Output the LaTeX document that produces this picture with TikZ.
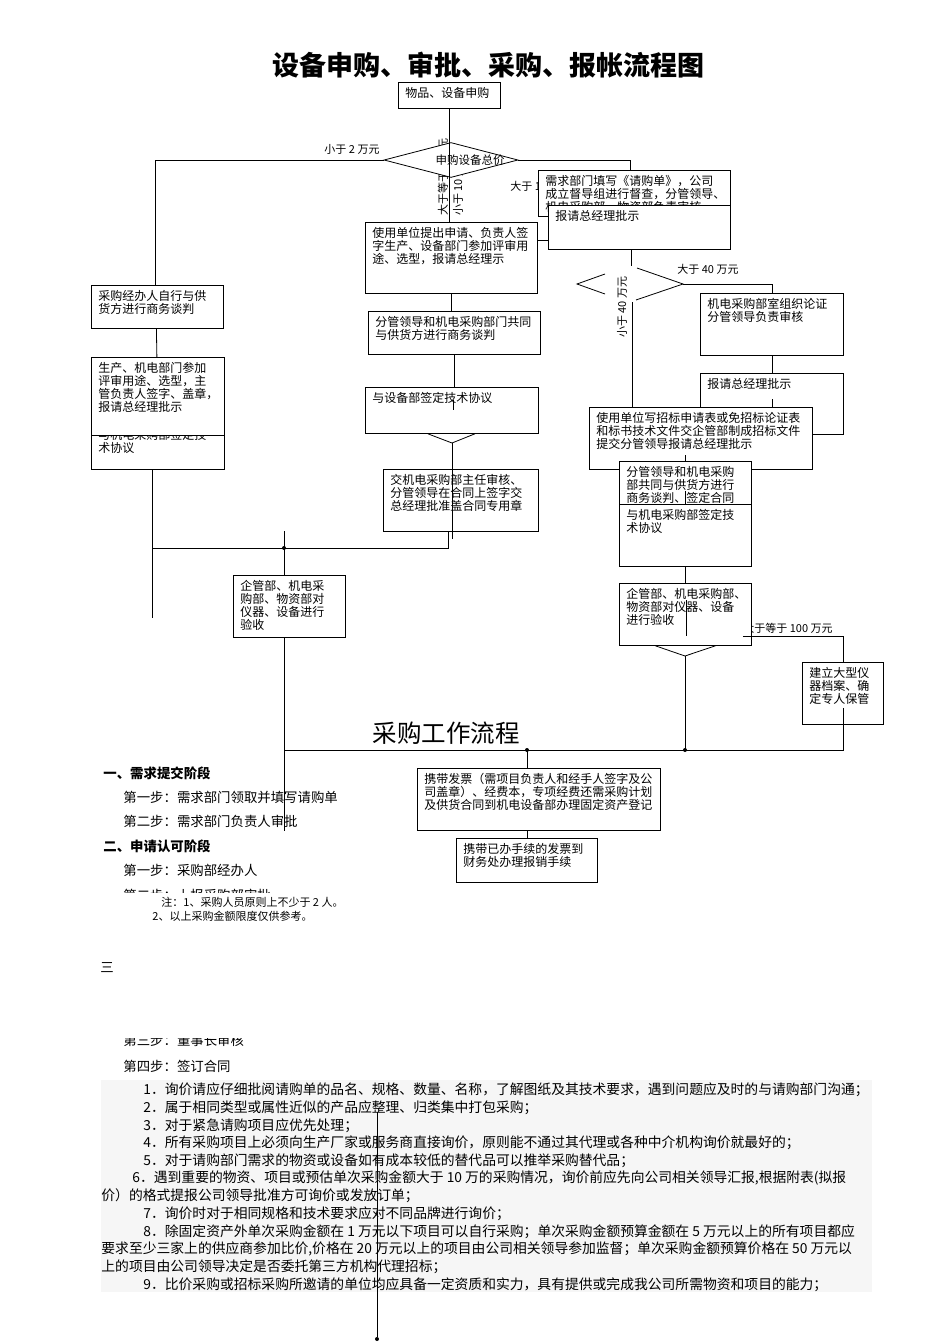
\documentclass[tikz,border=0pt]{standalone}
\usepackage{fontspec}
\setmainfont{Noto Sans CJK SC}
\usetikzlibrary{shapes.geometric,calc}

% box text: width, height (pt), lines
\newcommand{\bx}[3]{\parbox[c][\dimexpr#2pt-10pt\relax][t]{\dimexpr#1pt-14pt\relax}{\raggedright\fontsize{12}{13}\selectfont #3}}

\begin{document}
\begin{tikzpicture}[x=1pt, y=-1pt, line width=0.8pt,
  flowbox/.style={draw, fill=white, anchor=north west, inner xsep=7pt, inner ysep=5pt},
  lbl/.style={font=\fontsize{11}{12}\selectfont, inner sep=0pt},
  body/.style={anchor=west, inner sep=0pt, font=\fontsize{13.4}{15}\selectfont},
  head/.style={anchor=west, inner sep=0pt, font=\fontsize{13.4}{15}\selectfont\bfseries},
  note/.style={anchor=west, inner sep=0pt, font=\fontsize{11}{12}\selectfont},
  item/.style={anchor=west, inner sep=0pt, font=\fontsize{13.8}{16}\selectfont},
  junction/.style={circle, fill, inner sep=0pt, minimum size=4pt}]
\useasboundingbox (0,0) rectangle (950,1344);

% top: request and price decision
\node[font=\fontsize{27}{30}\selectfont\bfseries] (title) at (488,65) {设备申购、审批、采购、报帐流程图};
\node[flowbox] (start) at (398,82) {\bx{102}{26}{物品、设备申购}};
\node[lbl, rotate=90, anchor=west] (ge2) at (443,216) {大于等于 2 万元};
\node[lbl, rotate=90, anchor=west] (lt10) at (458,216) {小于 10 万元};
\node[draw, fill=white, diamond, minimum width=134pt, minimum height=35pt, inner sep=0pt] (price) at (451,160) {};
\node[lbl, font=\fontsize{11.5}{12}\selectfont] (pricetxt) at (470,160) {申购设备总价};
\node[lbl] (lt2) at (352,149) {小于 2 万元};
\node[lbl, anchor=west] (gt10) at (510,186) {大于 10 万元};

% right: over 10 wan
\node[flowbox] (reqform) at (538,170) {\bx{192}{46}{需求部门填写《请购单》，公司\\成立督导组进行督查，分管领导、\\机电采购部、物资部负责审核}};
\node[flowbox] (report1) at (548,205) {\bx{182}{44}{报请总经理批示}};
\draw (price.east) -| ($(reqform.north)+(-4,0)$);

% middle column
\node[flowbox] (apply) at (365,222) {\bx{172}{71}{使用单位提出申请、负责人签\\字生产、设备部门参加评审用\\途、选型，报请总经理示}};
\draw (start.south) -- (start.south |- apply.north);
\draw ($(apply.north east)+(0,18)$) -- ($(report1.north west)+(0,35)$);
\node[flowbox] (negot) at (368,311) {\bx{172}{43}{分管领导和机电采购部门共同\\与供货方进行商务谈判}};
\node[flowbox] (techM) at (365,387) {\bx{173}{46}{与设备部签定技术协议}};
\draw (apply.south) -- (apply.south |- negot.north);
\draw (negot.south) -- (negot.south |- techM.north);
\draw ($(techM.north)+(1,13)$) -- ++(0,10);
\coordinate (chevM) at (452,443);
\draw ($(techM.south)+(-24,0)$) -- (chevM) -- ($(techM.south)+(23,0)$);
\node[flowbox] (contract) at (383,469) {\bx{155}{62}{交机电采购部主任审核、\\分管领导在合同上签字交\\总经理批准盖合同专用章}};
\draw (chevM) -- ++(0,96);

% left: under 2 wan
\node[flowbox] (buyself) at (91,285) {\bx{132}{43}{采购经办人自行与供\\货方进行商务谈判}};
\draw (price.west) -| ($(buyself.north)+(-2,0)$);
\node[flowbox] (techL) at (91,424) {\bx{133}{45}{与机电采购部签定技\\术协议}};
\node[flowbox] (review) at (91,357) {\bx{133}{78}{生产、机电部门参加\\评审用途、选型，主\\管负责人签字、盖章，\\报请总经理批示}};
\draw ($(buyself.south)+(-1,0)$) -- ($(review.north)+(-1,0)$);
\coordinate (leftfoot) at (152,469);
\draw (leftfoot) -- ++(0,149);
\coordinate (join) at (284,548);
\draw (leftfoot |- join) -| ($(contract.south)+(-13,0)$);
\node[junction] (joindot) at (join) {};
\node[flowbox] (acceptL) at (233,575) {\bx{112}{62}{企管部、机电采\\购部、物资部对\\仪器、设备进行\\验收}};
\draw ($(join)+(0,-17)$) -- (join |- acceptL.north);
\coordinate (leftdrop) at (284,831);
\draw (join |- acceptL.south) -- (leftdrop);

% right column: 40 wan decision
\coordinate (d2n) at (631,266);
\coordinate (d2e) at (683,284);
\coordinate (d2s) at (632,302);
\draw (report1.south -| d2n) -- (d2n);
\draw (605,274) -- (577,284) -- (605,294);
\draw (637,268) -- (d2e) -- (636,300);
\node[lbl, rotate=90, anchor=west] (lt40) at (622,338) {小于 40 万元};
\node[lbl, anchor=west] (gt40) at (677,269) {大于 40 万元};
\node[flowbox] (argue) at (700,293) {\bx{143}{62}{机电采购部室组织论证\\分管领导负责审核}};
\draw (d2e) -| (argue.north);
\node[flowbox] (report2) at (700,373) {\bx{143}{61}{报请总经理批示}};
\draw (argue.south) -- (report2.north);
\draw ($(report2.north)+(0,26)$) -- ++(0,8);
\node[flowbox] (bid) at (589,407) {\bx{223}{62}{使用单位写招标申请表或免招标论证表\\和标书技术文件交企管部制成招标文件\\提交分管领导报请总经理批示}};
\draw (d2s) -- (d2s |- bid.north);
\node[flowbox] (sign) at (619,461) {\bx{132}{43}{分管领导和机电采购\\部共同与供货方进行\\商务谈判、签定合同}};
\draw ($(sign.north)+(0,-6)$) -- (sign.north);
\node[flowbox] (techR) at (619,504) {\bx{132}{62}{与机电采购部签定技\\术协议}};
\draw ($(sign.south)+(0,-14)$) -- (sign.south);
\node[lbl, anchor=west] (ge100) at (743,628) {大于等于 100 万元};
\node[flowbox] (acceptR) at (619,583) {\bx{132}{62}{企管部、机电采购部、\\物资部对仪器、设备\\进行验收}};
\draw (techR.south) -- (acceptR.north);
\draw ($(acceptR.north)+(1,17)$) -- ++(0,36);
\coordinate (chevR) at (685,656);
\draw ($(acceptR.south)+(-30,0)$) -- (chevR) -- ($(acceptR.south)+(30,0)$);
\node[flowbox] (archive) at (802,662) {\bx{81}{62}{建立大型仪\\器档案、确\\定专人保管}};
\draw ($(acceptR.south east)+(-9,-9)$) -| (archive.north);

% collecting line
\coordinate (busL) at (284,750);
\coordinate (busR) at (843,750);
\coordinate (busM) at (527,750);
\draw ($(archive.south)+(0,-17)$) -- (archive.south |- busR) -- (busL);
\draw (chevR) -- (chevR |- busR);
\node[junction] (dotR) at (chevR |- busR) {};
\node[junction] (dotM) at (busM) {};

% invoice and reimbursement
\node[font=\fontsize{24.5}{26}\selectfont] (title2) at (446,733) {采购工作流程};
\node[flowbox] (invoice) at (417,768) {\bx{243}{62}{携带发票（需项目负责人和经手人签字及公\\司盖章）、经费本，专项经费还需采购计划\\及供货合同到机电设备部办理固定资产登记}};
\draw (busM) -- (busM |- invoice.north);
\node[flowbox] (reimb) at (456,838) {\bx{141}{44}{携带已办手续的发票到\\财务处办理报销手续}};
\draw (invoice.south -| busM) -- (busM |- reimb.north);

% procedure text
\node[head] (s1) at (103,773) {一、需求提交阶段};
\node[body] (s1a) at (123,797) {第一步：需求部门领取并填写请购单};
\node[body] (s1b) at (123,821) {第二步：需求部门负责人审批};
\node[head] (s2) at (103,846) {二、申请认可阶段};
\node[body] (s2a) at (123,870) {第一步：采购部经办人};
\node[body] (s2b) at (123,895) {第二步：上报采购部审批};
\node[body] (s2c) at (123,1040) {第三步：董事长审核};
\fill[white] (100,893) rectangle (420,1038);
\node[note] (n1) at (161,902) {注：1、采购人员原则上不少于 2 人。};
\node[note] (n2) at (152,916) {2、以上采购金额限度仅供参考。};
\node[body] (s3) at (100,968) {三};
\node[body] (s2d) at (123,1066) {第四步：签订合同};

% rules
\fill[gray!7] (101,1080) rectangle (872,1292);
\node[item] (r1) at (143,1090) {1．询价请应仔细批阅请购单的品名、规格、数量、名称，了解图纸及其技术要求，遇到问题应及时的与请购部门沟通；};
\node[item] (r2) at (143,1108) {2．属于相同类型或属性近似的产品应整理、归类集中打包采购；};
\node[item] (r3) at (143,1126) {3．对于紧急请购项目应优先处理；};
\node[item] (r4) at (143,1143) {4．所有采购项目上必须向生产厂家或服务商直接询价，原则能不通过其代理或各种中介机构询价就最好的；};
\node[item] (r5) at (143,1161) {5．对于请购部门需求的物资或设备如有成本较低的替代品可以推举采购替代品；};
\node[item] (r6) at (132,1178) {6．遇到重要的物资、项目或预估单次采购金额大于 10 万的采购情况，询价前应先向公司相关领导汇报,根据附表(拟报};
\node[item] (r6b) at (101,1196) {价）的格式提报公司领导批准方可询价或发放订单；};
\node[item] (r7) at (143,1214) {7．询价时对于相同规格和技术要求应对不同品牌进行询价；};
\node[item] (r8) at (143,1232) {8．除固定资产外单次采购金额在 1 万元以下项目可以自行采购；单次采购金额预算金额在 5 万元以上的所有项目都应};
\node[item] (r8b) at (101,1249) {要求至少三家上的供应商参加比价,价格在 20 万元以上的项目由公司相关领导参加监督；单次采购金额预算价格在 50 万元以};
\node[item] (r8c) at (101,1267) {上的项目由公司领导决定是否委托第三方机构代理招标；};
\node[item] (r9) at (143,1285) {9．比价采购或招标采购所邀请的单位均应具备一定资质和实力，具有提供或完成我公司所需物资和项目的能力；};
\coordinate (tailtop) at (377,1112);
\node[junction] (taildot) at (377,1339) {};
\draw (tailtop) -- (taildot);
\end{tikzpicture}
\end{document}
